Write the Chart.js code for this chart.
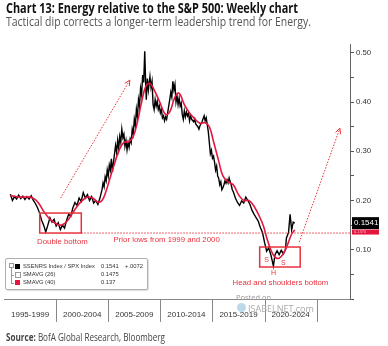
<!DOCTYPE html>
<html>
<head>
<meta charset="utf-8">
<script src="https://cdn.jsdelivr.net/npm/chart.js@4.4.0/dist/chart.umd.min.js"></script>
<style>
  body { margin: 0; width: 388px; height: 346px; position: relative; background: #fff; overflow: hidden; font-family: "Open Sans", sans-serif; }
  #chart { position: absolute; left: 0; top: 0; }
  .fit { position: absolute; left: 6px; white-space: nowrap; transform-origin: 0 0; line-height: 1; }
  #title { top: 1px; font-size: 14px; font-weight: bold; color: #111; }
  #sub { top: 16px; font-size: 12px; color: #555; }
  #src { top: 332px; font-size: 10.5px; color: #444; }
  #legend { position: absolute; left: 5px; top: 258px; width: 141px; height: 30px; border: 1px solid #b0b0b0; border-radius: 2px;
            font: 5.8px "Liberation Sans", sans-serif; color: #333; box-shadow: 1px 1px 1px #ddd; }
  #legend span { position: absolute; white-space: nowrap; line-height: 1; }
  #legend .sq { width: 5px; height: 5px; }
  .mark { position: absolute; color: #999; white-space: nowrap; line-height: 1; }
</style>
</head>
<body>
<canvas id="chart" width="388" height="346"></canvas>
<div id="title" class="fit">Chart 13: Energy relative to the S&amp;P 500: Weekly chart</div>
<div id="sub" class="fit">Tactical dip corrects a longer-term leadership trend for Energy.</div>
<div id="src" class="fit"><b>Source:</b> BofA Global Research, Bloomberg</div>

<div id="legend">
  <span style="left:3px;top:4px;width:3px;height:3px;border:1px solid #999"></span>
  <span style="left:5px;top:9px;width:0;height:15px;border-left:1px solid #999"></span>
  <span style="left:5px;top:16px;width:3px;height:0;border-top:1px solid #999"></span>
  <span style="left:5px;top:24px;width:3px;height:0;border-top:1px solid #999"></span>
  <span class="sq" style="left:9px;top:5px;background:#000"></span>
  <span class="sq" style="left:9px;top:13px;border:1px solid #999;width:4px;height:4px"></span>
  <span class="sq" style="left:9px;top:21px;background:#e4173e"></span>
  <span style="left:17px;top:5px">SSENRS Index / SPX Index</span>
  <span style="left:95px;top:5px">0.1541</span>
  <span style="left:119px;top:5px">+.0072</span>
  <span style="left:17px;top:13px">SMAVG (26)</span>
  <span style="left:95px;top:13px">0.1475</span>
  <span style="left:17px;top:21px">SMAVG (40)</span>
  <span style="left:95px;top:21px">0.137</span>
</div>

<div class="mark" style="left:236px;top:294px;font-size:7.5px">Posted on</div>
<div class="mark" style="left:237px;top:303px;width:9px;height:9px;border-radius:50%;background:#bcd9ea"></div>
<div class="mark" style="left:248px;top:304px;font-size:9px;color:#aaa">ISABELNET.com</div>

<script>
// weekly ratio
const ratioYears = [1995.6, 1995.8, 1996.0, 1996.2, 1996.4, 1996.6, 1996.8, 1997.0, 1997.2, 1997.4,
  1997.6, 1997.8, 1998.0, 1998.2, 1998.4, 1998.6, 1998.8, 1999.0, 1999.2, 1999.4,
  1999.6, 1999.8, 2000.0, 2000.2, 2000.4, 2000.6, 2000.8, 2001.0, 2001.2, 2001.4,
  2001.6, 2001.8, 2002.0, 2002.2, 2002.4, 2002.6, 2002.8, 2003.0, 2003.2, 2003.4,
  2003.6, 2003.8, 2004.0, 2004.2, 2004.4, 2004.5, 2004.6, 2004.7, 2004.8, 2004.9,
  2005.0, 2005.1, 2005.2, 2005.3, 2005.4, 2005.5, 2005.6, 2005.7, 2005.8, 2005.9,
  2006.0, 2006.1, 2006.2, 2006.3, 2006.4, 2006.5, 2006.6, 2006.7, 2006.8, 2006.9,
  2007.0, 2007.1, 2007.2, 2007.3, 2007.4, 2007.5, 2007.6, 2007.7, 2007.8, 2007.9,
  2008.0, 2008.1, 2008.2, 2008.3, 2008.4, 2008.5, 2008.6, 2008.65, 2008.75, 2008.85,
  2009.0, 2009.1, 2009.2, 2009.3, 2009.4, 2009.5, 2009.6, 2009.7, 2009.8, 2009.9,
  2010.0, 2010.1, 2010.2, 2010.3, 2010.4, 2010.5, 2010.6, 2010.7, 2010.8, 2010.9,
  2011.0, 2011.1, 2011.2, 2011.3, 2011.4, 2011.5, 2011.6, 2011.7, 2011.8, 2011.9,
  2012.0, 2012.1, 2012.2, 2012.3, 2012.4, 2012.5, 2012.6, 2012.7, 2012.8, 2012.9,
  2013.0, 2013.2, 2013.3, 2013.4, 2013.6, 2013.7, 2013.8, 2014.0, 2014.2, 2014.3,
  2014.4, 2014.6, 2014.7, 2014.8, 2014.9, 2015.0, 2015.1, 2015.2, 2015.3, 2015.4,
  2015.5, 2015.6, 2015.7, 2015.8, 2015.9, 2016.0, 2016.1, 2016.2, 2016.3, 2016.4,
  2016.5, 2016.6, 2016.7, 2016.8, 2016.9, 2017.0, 2017.2, 2017.4, 2017.6, 2017.8,
  2018.0, 2018.2, 2018.4, 2018.6, 2018.8, 2019.0, 2019.2, 2019.4, 2019.6, 2019.8,
  2020.0, 2020.2, 2020.4, 2020.6, 2020.85, 2021.0, 2021.2, 2021.4, 2021.6, 2021.8,
  2022.0, 2022.1, 2022.3, 2022.45, 2022.6, 2022.75, 2022.9];
const ratioValues = [0.213, 0.200, 0.208, 0.203, 0.211, 0.204, 0.209, 0.202, 0.208, 0.203,
  0.210, 0.201, 0.194, 0.186, 0.175, 0.160, 0.150, 0.136, 0.150, 0.165,
  0.156, 0.162, 0.148, 0.155, 0.141, 0.150, 0.144, 0.160, 0.172, 0.168,
  0.185, 0.196, 0.190, 0.205, 0.198, 0.216, 0.205, 0.212, 0.200, 0.208,
  0.195, 0.200, 0.192, 0.205, 0.222, 0.236, 0.228, 0.248, 0.240, 0.262,
  0.250, 0.272, 0.262, 0.285, 0.258, 0.278, 0.295, 0.312, 0.298, 0.322,
  0.305, 0.330, 0.318, 0.345, 0.328, 0.335, 0.310, 0.322, 0.303, 0.318,
  0.308, 0.325, 0.318, 0.345, 0.335, 0.365, 0.352, 0.385, 0.370, 0.405,
  0.392, 0.428, 0.415, 0.455, 0.440, 0.503, 0.430, 0.405, 0.448, 0.425,
  0.452, 0.430, 0.442, 0.395, 0.385, 0.405, 0.392, 0.402, 0.385, 0.392,
  0.378, 0.385, 0.368, 0.372, 0.362, 0.370, 0.365, 0.378, 0.392, 0.405,
  0.420, 0.410, 0.442, 0.425, 0.436, 0.400, 0.412, 0.395, 0.408, 0.392,
  0.398, 0.375, 0.365, 0.382, 0.370, 0.380, 0.372, 0.378, 0.362, 0.372,
  0.365, 0.360, 0.366, 0.355, 0.350, 0.345, 0.352, 0.360, 0.372, 0.362,
  0.368, 0.340, 0.318, 0.295, 0.302, 0.286, 0.290, 0.278, 0.262, 0.270,
  0.250, 0.245, 0.232, 0.238, 0.222, 0.226, 0.232, 0.240, 0.235, 0.242,
  0.236, 0.246, 0.238, 0.232, 0.222, 0.218, 0.205, 0.196, 0.190, 0.199,
  0.195, 0.207, 0.200, 0.192, 0.180, 0.172, 0.165, 0.158, 0.145, 0.135,
  0.115, 0.097, 0.104, 0.090, 0.067, 0.090, 0.098, 0.090, 0.099, 0.092,
  0.100, 0.124, 0.135, 0.172, 0.140, 0.156, 0.154];

// 40-week simple moving average
const smaYears = [1995.6, 1996.5, 1997.5, 1998.0, 1998.4, 1998.9, 1999.5, 2000.0, 2000.5, 2001.0,
  2001.5, 2002.0, 2002.5, 2003.0, 2003.5, 2004.0, 2004.4, 2004.8, 2005.2, 2005.6,
  2006.0, 2006.5, 2007.0, 2007.4, 2007.8, 2008.2, 2008.6, 2009.0, 2009.4, 2009.9,
  2010.5, 2010.9, 2011.4, 2011.8, 2012.3, 2012.8, 2013.3, 2013.8, 2014.3, 2014.7,
  2015.1, 2015.6, 2016.0, 2016.5, 2017.0, 2017.5, 2018.0, 2018.5, 2019.0, 2019.5,
  2019.9, 2020.2, 2020.6, 2021.0, 2021.4, 2021.8, 2022.2, 2022.6, 2022.9];
const sma40 = [0.210, 0.207, 0.207, 0.202, 0.192, 0.175, 0.160, 0.153, 0.150, 0.157,
  0.172, 0.188, 0.200, 0.207, 0.205, 0.197, 0.200, 0.220, 0.248, 0.275,
  0.300, 0.318, 0.320, 0.330, 0.360, 0.400, 0.432, 0.438, 0.425, 0.402,
  0.375, 0.380, 0.410, 0.418, 0.395, 0.378, 0.366, 0.357, 0.358, 0.350,
  0.320, 0.280, 0.250, 0.238, 0.232, 0.212, 0.200, 0.200, 0.188, 0.168,
  0.148, 0.125, 0.100, 0.085, 0.083, 0.092, 0.110, 0.132, 0.140];

const bandStarts = [1995, 2000, 2005, 2010, 2015, 2020];
const bandLabels = ['1995-1999', '2000-2004', '2005-2009', '2010-2014', '2015-2019', '2020-2024'];
const yTicks = [0, 0.05, 0.1, 0.15, 0.2, 0.25, 0.3, 0.35, 0.4, 0.45, 0.5];
const lastValue = 0.1541;
const lastSma = 0.137;
const priorLow = 0.134;

const red = '#e4173e';
const noteRed = '#e8323c';

function fit(id, w) {
  const el = document.getElementById(id);
  el.style.transform = 'scaleX(' + (w / el.getBoundingClientRect().width) + ')';
}
fit('title', 292);
fit('sub', 305);
fit('src', 159);

const notes = {
  id: 'notes',
  afterDatasetsDraw(chart) {
    const { ctx, scales: { x, y }, chartArea: a } = chart;
    const px = v => x.getPixelForValue(v);
    const py = v => y.getPixelForValue(v);
    ctx.save();

    // boxes
    ctx.strokeStyle = noteRed;
    ctx.lineWidth = 1.5;
    ctx.strokeRect(px(1998.42), py(0.1746), px(2002.41) - px(1998.42), py(priorLow) - py(0.1746));
    ctx.strokeRect(px(2019.53), py(0.1056), px(2023.42) - px(2019.53), py(0.065) - py(0.1056));

    // dotted lines
    ctx.lineWidth = 1;
    ctx.setLineDash([1.5, 1.5]);
    ctx.beginPath();
    ctx.moveTo(px(2002.41), py(priorLow));
    ctx.lineTo(a.right, py(priorLow));
    ctx.stroke();

    const arrow = (x0, y0, x1, y1) => {
      const X0 = px(x0), Y0 = py(y0), X1 = px(x1), Y1 = py(y1);
      ctx.setLineDash([1.5, 1.5]);
      ctx.beginPath();
      ctx.moveTo(X0, Y0);
      ctx.lineTo(X1, Y1);
      ctx.stroke();
      const ang = Math.atan2(Y1 - Y0, X1 - X0);
      ctx.setLineDash([]);
      ctx.beginPath();
      ctx.moveTo(X1 - 6 * Math.cos(ang - 0.45), Y1 - 6 * Math.sin(ang - 0.45));
      ctx.lineTo(X1, Y1);
      ctx.lineTo(X1 - 6 * Math.cos(ang + 0.45), Y1 - 6 * Math.sin(ang + 0.45));
      ctx.stroke();
    };
    arrow(2000.42, 0.205, 2007.07, 0.4447);
    arrow(2023.33, 0.1157, 2027.23, 0.347);

    // labels
    ctx.fillStyle = noteRed;
    ctx.textAlign = 'center';
    ctx.textBaseline = 'middle';
    ctx.font = '7.8px "Liberation Sans", sans-serif';
    ctx.fillText('Double bottom', px(2000.6), py(0.1157));
    ctx.fillText('Prior lows from 1999 and 2000', px(2010.6), py(0.1198));
    ctx.fillText('Head and shoulders bottom', px(2021.52), py(0.0325));
    ctx.font = '7px "Liberation Sans", sans-serif';
    ctx.fillText('S', px(2020.19), py(0.079));
    ctx.fillText('S', px(2021.81), py(0.073));
    ctx.fillText('H', px(2020.86), py(0.053));
    ctx.restore();
  },
  afterDraw(chart) {
    const { ctx, scales: { x, y }, chartArea: a } = chart;
    ctx.save();
    // band separators under the axis
    ctx.strokeStyle = '#888';
    ctx.lineWidth = 1;
    bandStarts.slice(1).concat([2025]).forEach(v => {
      const X = Math.round(x.getPixelForValue(v)) + 0.5;
      ctx.beginPath();
      ctx.moveTo(X, a.bottom);
      ctx.lineTo(X, a.bottom + 23);
      ctx.stroke();
    });
    // last value tags
    const Y = y.getPixelForValue(lastValue);
    ctx.fillStyle = '#000';
    ctx.fillRect(a.right + 2, Y - 6, 27, 12);
    ctx.fillStyle = '#fff';
    ctx.font = '8px "Liberation Sans", sans-serif';
    ctx.textAlign = 'left';
    ctx.textBaseline = 'middle';
    ctx.fillText(lastValue.toFixed(4), a.right + 4, Y);
    const Y2 = y.getPixelForValue(lastSma);
    ctx.fillStyle = red;
    ctx.fillRect(a.right + 2, Y2 - 2, 27, 5);
    ctx.fillStyle = '#fbd';
    ctx.font = '4px "Liberation Sans", sans-serif';
    ctx.fillText(lastSma.toFixed(4), a.right + 4, Y2 + 0.5);
    ctx.restore();
  }
};

const ctx = document.getElementById('chart').getContext('2d');

new Chart(ctx, {
  type: 'line',
  data: {
    datasets: [{
      label: 'SMAVG (40)',
      data: smaYears.map((v, i) => ({ x: v, y: sma40[i] })),
      borderColor: red,
      borderWidth: 1.6,
      pointRadius: 0,
      tension: 0.4
    }, {
      label: 'SSENRS Index / SPX Index',
      data: ratioYears.map((v, i) => ({ x: v, y: ratioValues[i] })),
      borderColor: '#000',
      borderWidth: 1.4,
      pointRadius: 0,
      tension: 0
    }]
  },
  options: {
    responsive: false,
    animation: false,
    layout: { padding: { top: 44, left: 0, right: 0, bottom: 0 } },
    plugins: {
      legend: { display: false },
      tooltip: { enabled: false }
    },
    scales: {
      x: {
        type: 'linear',
        min: 1995,
        max: 2028.2,
        afterBuildTicks: s => { s.ticks = bandStarts.map(v => ({ value: v + 2.5 })); },
        afterFit: s => { s.height = 47; },
        grid: { display: false, drawTicks: false },
        border: { display: true, color: '#888', width: 1 },
        ticks: {
          autoSkip: false,
          maxRotation: 0,
          padding: 11,
          color: '#333',
          font: { family: 'Liberation Sans', size: 8 },
          callback: (v, i) => bandLabels[i]
        }
      },
      y: {
        position: 'right',
        min: 0,
        max: 0.518,
        afterBuildTicks: s => { s.ticks = yTicks.map(v => ({ value: v })); },
        afterFit: s => { s.width = 38; },
        grid: { drawOnChartArea: false, tickLength: 4, color: '#555' },
        border: { display: true, color: '#666', width: 1 },
        ticks: {
          padding: 2,
          color: '#333',
          font: { family: 'Liberation Sans', size: 7.8 },
          callback: v => (v > 0 && Math.round(v * 100) % 10 === 0) ? v.toFixed(2) : ''
        }
      }
    }
  },
  plugins: [notes]
});
</script>
</body>
</html>
